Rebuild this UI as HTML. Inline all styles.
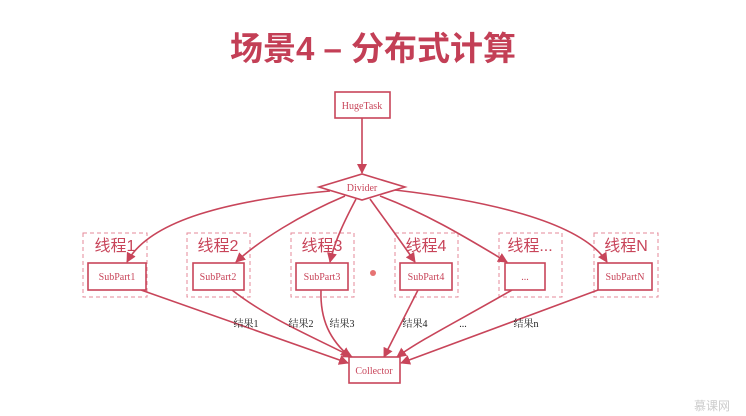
<!DOCTYPE html>
<html><head><meta charset="utf-8"><style>
body{margin:0;background:#fff;}
svg{display:block;}
</style></head><body>
<svg width="746" height="416" viewBox="0 0 746 416" xmlns="http://www.w3.org/2000/svg">
<defs>
<marker id="a" markerWidth="10" markerHeight="10" refX="9" refY="5" orient="auto" markerUnits="userSpaceOnUse">
<path d="M0,0 L10,5 L0,10 z" fill="#c8455a"/></marker>
</defs>
<text x="373" y="60" text-anchor="middle" font-family="Liberation Sans, Noto Sans CJK SC, sans-serif" font-size="33" font-weight="bold" fill="#c33f56">场景4 – 分布式计算</text>
<g fill="none" stroke="#c8455a" stroke-width="1.6">
<rect x="335" y="92" width="55" height="26" fill="#fff"/>
<line x1="362" y1="118" x2="362" y2="173" marker-end="url(#a)"/>
<polygon points="319,187 362,174 405,187 362,200" fill="#fff"/>
</g>
<g fill="none" stroke="#e48a9a" stroke-width="1" stroke-dasharray="4,3">
<rect x="83" y="233" width="64" height="64"/>
<rect x="187" y="233" width="63" height="64"/>
<rect x="291" y="233" width="63" height="64"/>
<rect x="395" y="233" width="63" height="64"/>
<rect x="499" y="233" width="63" height="64"/>
<rect x="594" y="233" width="64" height="64"/>
</g>
<g font-family="Liberation Sans, Noto Sans CJK SC, sans-serif" font-size="16" fill="#c8455a" text-anchor="middle">
<text x="115" y="251">线程1</text>
<text x="218" y="251">线程2</text>
<text x="322" y="251">线程3</text>
<text x="426" y="251">线程4</text>
<text x="530" y="251">线程...</text>
<text x="626" y="251">线程N</text>
</g>
<g fill="none" stroke="#c8455a" stroke-width="1.6">
<path d="M330,191 C230,200 150,220 127,262" marker-end="url(#a)"/>
<path d="M345,196 C300,215 260,240 236,262" marker-end="url(#a)"/>
<path d="M356,199 C345,220 335,240 330,262" marker-end="url(#a)"/>
<path d="M370,199 C385,220 400,240 415,262" marker-end="url(#a)"/>
<path d="M380,196 C430,215 470,240 507,262" marker-end="url(#a)"/>
<path d="M395,190 C480,200 580,220 607,262" marker-end="url(#a)"/>
<path d="M141,290 L348,363" marker-end="url(#a)"/>
<path d="M232,290 C270,320 320,340 352,357" marker-end="url(#a)"/>
<path d="M321,290 C320,320 330,340 350,357" marker-end="url(#a)"/>
<path d="M418,290 L384,357" marker-end="url(#a)"/>
<path d="M512,290 C460,320 420,340 397,357" marker-end="url(#a)"/>
<path d="M598,290 L401,363" marker-end="url(#a)"/>
</g>
<g fill="#fff" stroke="#c8455a" stroke-width="1.6">
<rect x="88" y="263" width="58" height="27"/>
<rect x="193" y="263" width="51" height="27"/>
<rect x="296" y="263" width="52" height="27"/>
<rect x="400" y="263" width="52" height="27"/>
<rect x="505" y="263" width="40" height="27"/>
<rect x="598" y="263" width="54" height="27"/>
<rect x="349" y="357" width="51" height="26"/>
</g>
<g font-family="Liberation Serif, serif" font-size="10" fill="#c8455a" text-anchor="middle">
<text x="362" y="109">HugeTask</text>
<text x="362" y="191">Divider</text>
<text x="117" y="280">SubPart1</text>
<text x="218" y="280">SubPart2</text>
<text x="322" y="280">SubPart3</text>
<text x="426" y="280">SubPart4</text>
<text x="525" y="280">...</text>
<text x="625" y="280">SubPartN</text>
<text x="374" y="374">Collector</text>
</g>
<g font-family="Liberation Serif, Noto Serif CJK SC, serif" font-size="10" fill="#222" text-anchor="middle">
<text x="246" y="327">结果1</text>
<text x="301" y="327">结果2</text>
<text x="342" y="327">结果3</text>
<text x="415" y="327">结果4</text>
<text x="463" y="327">...</text>
<text x="526" y="327">结果n</text>
</g>
<circle cx="373" cy="273" r="3" fill="#e05050" opacity="0.8"/>
<text x="712" y="410" text-anchor="middle" font-family="Noto Sans CJK SC, sans-serif" font-size="12" fill="#ccc">慕课网</text>
</svg>
</body></html>
